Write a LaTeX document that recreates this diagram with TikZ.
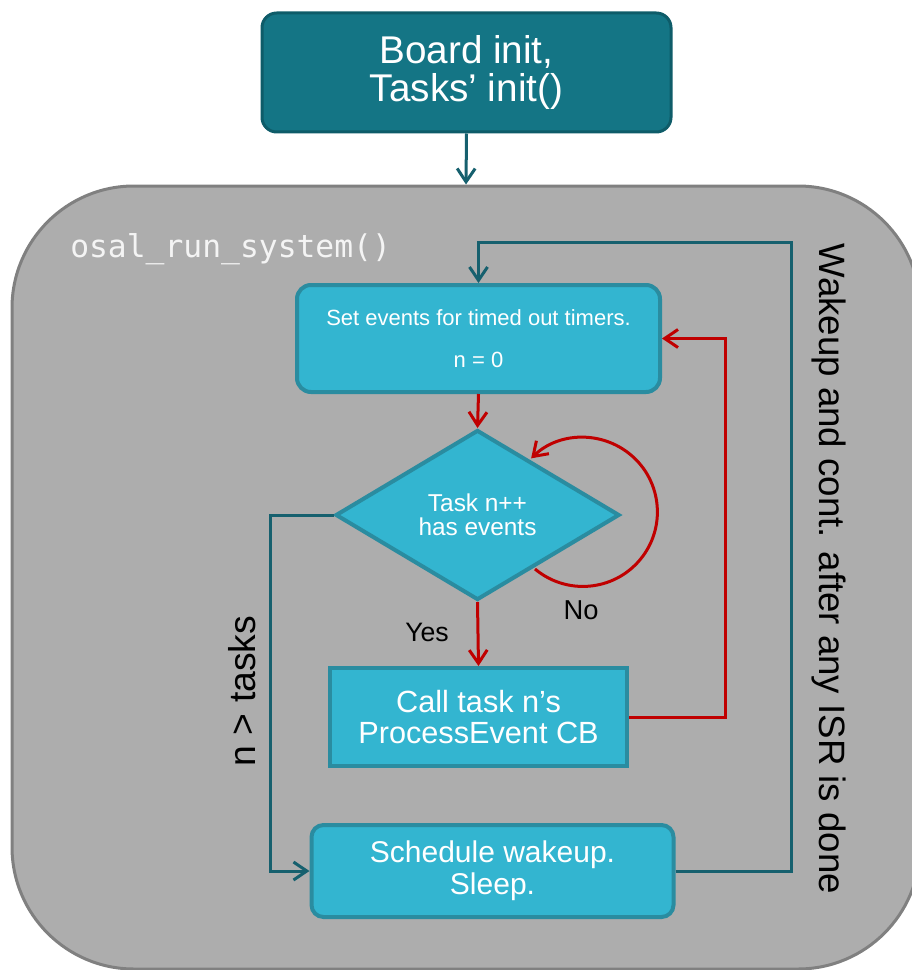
\documentclass[tikz,border=0pt]{standalone}
\usepackage{fontspec}
\setmainfont{Liberation Sans}
\newfontfamily\osalmono{DejaVu Sans Mono}
\usetikzlibrary{arrows.meta,shapes.geometric}
\definecolor{topfill}{HTML}{147585}
\definecolor{topdraw}{HTML}{0E5C69}
\definecolor{boxfill}{HTML}{33B5D0}
\definecolor{boxdraw}{HTML}{2A8CA0}
\definecolor{tealline}{HTML}{16606E}
\definecolor{redline}{HTML}{C00000}
\definecolor{grayfill}{HTML}{ADADAD}
\definecolor{graydraw}{HTML}{808080}
\definecolor{osaltext}{HTML}{F4F4F4}
\tikzset{
  sysbox/.style={draw=graydraw, line width=2.25pt, fill=grayfill, rounded corners=91.5pt,
    minimum width=681pt, minimum height=587.25pt, inner sep=0pt},
  topbox/.style={draw=topdraw, line width=2.25pt, fill=topfill, rounded corners=11pt,
    text=white, align=center, inner sep=0pt, font={\fontsize{29}{29}\selectfont}},
  lightbox/.style={draw=boxdraw, line width=3pt, fill=boxfill, text=white, align=center, inner sep=0pt},
  decbox/.style={diamond, aspect=1.67, draw=boxdraw, line width=3pt, fill=boxfill, text=white,
    align=center, inner sep=0pt, minimum width=213pt, minimum height=127.5pt,
    font={\fontsize{18.3}{18}\selectfont}},
  tealarrow/.style={draw=tealline, line width=2.25pt, -{Straight Barb[length=10pt,width=13.5pt]}},
  redarrow/.style={draw=redline, line width=2.25pt, -{Straight Barb[length=10pt,width=13.5pt]}},
  plainlabel/.style={text=black, inner sep=0pt},
}
\begin{document}
\begin{tikzpicture}[x=0.75pt, y=-0.75pt]
\useasboundingbox (0,0) rectangle (912,970);
% system container
\node[sysbox] (sys) at (466,577.5) {};
% top box
\node[topbox, minimum width=306.75pt, minimum height=89.25pt] (top) at (466.5,72.5) {Board init,\\Tasks’ init()};
\draw[tealarrow] (top.south) -- (sys.north);
% label
\node[anchor=base west, inner sep=0pt, text=osaltext, font={\osalmono\fontsize{23.5}{28}\selectfont}] (osal) at (70,257) {osal\_run\_system()};
% boxes
\node[lightbox, rounded corners=10.5pt, minimum width=272.25pt, minimum height=80.25pt,
  font={\fontsize{16.5}{31.5}\selectfont}] (set) at (478.5,338.5) {Set events for timed out timers.\\n = 0};
\node[decbox] (dia) at (477.5,515) {Task n++\\has events};
\node[lightbox, minimum width=222.75pt, minimum height=73.5pt,
  font={\fontsize{23}{23.25}\selectfont}] (call) at (478.5,717) {Call task n’s\\ProcessEvent CB};
\node[lightbox, rounded corners=9pt, minimum width=271.5pt, minimum height=69pt,
  font={\fontsize{22.5}{24}\selectfont}] (sched) at (492.5,871) {Schedule wakeup.\\Sleep.};
% connectors
\draw[redarrow] (set.south) -- (dia.north);
\draw[redarrow] (dia.south) -- (call.north);
\coordinate (ls) at (535,569);
\draw[redarrow] (ls) arc[start angle=130, end angle=-134, radius=74.5];
\coordinate (rc) at (725,338.5);
\draw[redarrow] (call.east) -| (rc) -- (set.east);
\coordinate (lc) at (270,871);
\draw[tealarrow] (dia.west) -| (lc) -- (sched.west);
\coordinate (tc) at (791,242);
\draw[tealarrow] (sched.east) -| (tc) -| (set.north);
% labels
\node[plainlabel, font={\fontsize{20.5}{22}\selectfont}] (no) at (581,610) {No};
\node[plainlabel, font={\fontsize{20}{22}\selectfont}] (yes) at (427,632) {Yes};
\node[plainlabel, rotate=90, font={\fontsize{28}{30}\selectfont}] (ntasks) at (242,691) {n > tasks};
\node[plainlabel, rotate=-90, font={\fontsize{27.5}{30}\selectfont}] (wake) at (829,569) {Wakeup and cont. after any ISR is done};
\end{tikzpicture}
\end{document}
